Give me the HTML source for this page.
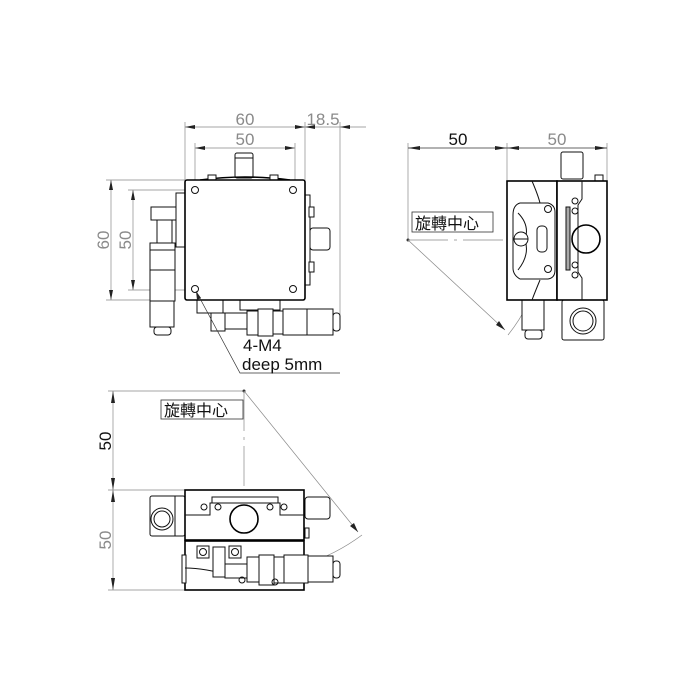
<!DOCTYPE html>
<html><head><meta charset="utf-8"><style>
html,body{margin:0;padding:0;background:#fff;width:700px;height:700px;overflow:hidden}
svg{display:block}
.o{fill:none;stroke:#111;stroke-width:1}
.b{fill:none;stroke:#000;stroke-width:1.6}
.w{fill:#fff;stroke:#111;stroke-width:1}
.d{fill:none;stroke:#888;stroke-width:0.7}
.t{font-family:"Liberation Sans","Noto Sans CJK TC",sans-serif;font-size:17px;fill:#111}
.c{font-family:"Liberation Sans","Noto Sans CJK TC",sans-serif;font-size:16px;fill:#111}
.g{fill:#8a8a8a}
.a{fill:#222}
</style></head><body>
<svg width="700" height="700" viewBox="0 0 700 700" xmlns="http://www.w3.org/2000/svg">
<!-- VIEW 1 -->
<line class="d" x1="185" y1="122" x2="185" y2="180"/>
<line class="d" x1="305" y1="122" x2="305" y2="180"/>
<line class="d" x1="195" y1="143" x2="195" y2="180"/>
<line class="d" x1="295" y1="143" x2="295" y2="180"/>
<line class="d" x1="340" y1="122" x2="340" y2="330"/>
<line class="d" x1="185" y1="127" x2="366" y2="127"/>
<line class="d" x1="195" y1="148" x2="295" y2="148"/>
<polygon class="a" points="185,127 195,125 195,129"/><polygon class="a" points="305,127 295,125 295,129"/>
<polygon class="a" points="305,127 315,125 315,129"/><polygon class="a" points="340,127 350,125 350,129"/>
<polygon class="a" points="195,148 205,146 205,150"/><polygon class="a" points="295,148 285,146 285,150"/>
<text class="t g" x="245" y="125" text-anchor="middle">60</text>
<text class="t g" x="245" y="145" text-anchor="middle">50</text>
<text class="t g" x="323" y="125" text-anchor="middle">18.5</text>
<line class="d" x1="106" y1="180" x2="185" y2="180"/>
<line class="d" x1="106" y1="300" x2="150" y2="300"/>
<line class="d" x1="128" y1="190" x2="185" y2="190"/>
<line class="d" x1="128" y1="290" x2="185" y2="290"/>
<line class="d" x1="111" y1="180" x2="111" y2="300"/>
<line class="d" x1="133" y1="190" x2="133" y2="290"/>
<polygon class="a" points="111,180 109,190 113,190"/><polygon class="a" points="111,300 109,290 113,290"/>
<polygon class="a" points="133,190 131,200 135,200"/><polygon class="a" points="133,290 131,280 135,280"/>
<text class="t g" transform="translate(109,240) rotate(-90)" text-anchor="middle">60</text>
<text class="t g" transform="translate(131,240) rotate(-90)" text-anchor="middle">50</text>
<rect class="w" x="235" y="153" width="18" height="25" rx="2"/>
<line class="o" x1="235" y1="158" x2="253" y2="158"/>
<path class="b" d="M200,180 Q245,174 290,180"/>
<rect class="w" x="208" y="175" width="8" height="5"/><rect class="w" x="270" y="175" width="8" height="5"/>
<rect class="w" x="176" y="193" width="10" height="54"/>
<rect class="w" x="151" y="207" width="25" height="13"/>
<rect class="w" x="157" y="220" width="15" height="23"/>
<rect class="w" x="150" y="243" width="25" height="58"/>
<line class="o" x1="150" y1="250" x2="175" y2="250"/><line class="o" x1="150" y1="270" x2="175" y2="270"/>
<rect class="w" x="150" y="301" width="24" height="26"/>
<rect class="w" x="154" y="327" width="17" height="8" rx="3"/>
<rect class="w" x="305" y="195" width="5" height="90"/>
<rect class="w" x="310" y="228" width="20" height="22" rx="3"/>
<rect class="w" x="309" y="207" width="5" height="10"/><rect class="w" x="309" y="262" width="5" height="10"/>
<rect class="w" x="197" y="300" width="26" height="13"/>
<rect class="w" x="211" y="313" width="14" height="18"/>
<rect class="w" x="225" y="313" width="24" height="16"/>
<rect class="w" x="240" y="300" width="40" height="10"/>
<rect class="w" x="247" y="311" width="11" height="24"/>
<rect class="w" x="258" y="309" width="15" height="27"/>
<rect class="w" x="273" y="311" width="10" height="23"/>
<rect class="w" x="283" y="309" width="24" height="26"/>
<rect class="w" x="307" y="309" width="26" height="26"/>
<rect class="w" x="333" y="313" width="7" height="18" rx="3"/>
<rect class="w" x="185" y="180" width="120" height="120" rx="2" style="stroke-width:1.6;stroke:#000"/>
<circle class="o" cx="195" cy="190" r="3.5"/><circle class="o" cx="293" cy="190" r="3.5"/>
<circle class="o" cx="195" cy="289" r="3.5"/><circle class="o" cx="293" cy="289" r="3.5"/>
<polyline class="d" points="196,291 240,373 340,373" style="stroke:#333"/>
<polygon class="a" points="196,291 197,300 201,298"/>
<text class="t" x="243" y="351">4-M4</text>
<text class="t" x="242" y="370">deep 5mm</text>

<!-- VIEW 2 -->
<line class="d" x1="408" y1="143" x2="408" y2="240"/>
<line class="d" x1="507" y1="143" x2="507" y2="180"/>
<line class="d" x1="607" y1="143" x2="607" y2="180"/>
<line class="d" x1="408" y1="148" x2="607" y2="148" style="stroke:#333"/>
<polygon class="a" points="408,148 420,146 420,150"/><polygon class="a" points="507,148 495,146 495,150"/>
<polygon class="a" points="507,148 519,146 519,150"/><polygon class="a" points="607,148 595,146 595,150"/>
<text class="t" x="458" y="145" text-anchor="middle">50</text>
<text class="t g" x="557" y="145" text-anchor="middle">50</text>
<rect x="412" y="212" width="81" height="20" fill="#fff" stroke="#333" stroke-width="0.8"/>
<text class="c" x="415" y="229">旋轉中心</text>
<circle cx="408" cy="240" r="1.5" fill="#333"/>
<line class="d" x1="408" y1="240" x2="507" y2="240" stroke-dasharray="40,6,3,6"/>
<line class="d" x1="408" y1="240" x2="505" y2="330"/>
<polygon class="a" points="505,330 496,325 499,321"/>
<path class="d" d="M508,335 Q520,320 527,305"/>
<rect class="w" x="561" y="152" width="22" height="27" rx="2"/>
<rect class="w" x="595" y="175" width="8" height="6"/>
<rect class="w" x="522" y="300" width="22" height="30"/>
<rect class="w" x="525" y="330" width="17" height="9" rx="3"/>
<rect class="w" x="562" y="300" width="42" height="40" rx="2"/>
<circle class="o" cx="583" cy="321" r="13"/><circle class="o" cx="583" cy="321" r="10"/>
<rect class="w" x="507" y="181" width="50" height="119" style="stroke-width:1.6;stroke:#000"/>
<rect class="w" x="557" y="181" width="50" height="119" style="stroke-width:1.6;stroke:#000"/>
<path class="o" d="M532,181 Q538,195 540,203 M540,280 Q535,292 532,300"/>
<path class="o" d="M520,203 L548,203 Q555,205 555,212 L555,270 Q555,278 548,279 L520,279 Q513,275 513,268 L513,215 Q513,205 520,203Z"/>
<path class="o" d="M518,213 Q530,225 525,240 Q530,255 518,270"/>
<circle class="w" cx="521" cy="239" r="7"/>
<line class="o" x1="514" y1="239" x2="528" y2="239"/>
<rect class="o" x="537" y="226" width="10" height="26" rx="4"/>
<circle class="o" cx="548" cy="209" r="3.5"/><circle class="o" cx="548" cy="269" r="3.5"/>
<path class="o" d="M582,181 L582,199 L578,205 L578,272 L582,278 L582,300"/>
<rect class="o" x="566" y="207" width="4" height="63" style="fill:#aaa"/>
<circle class="o" cx="575" cy="201" r="3"/><circle class="o" cx="575" cy="211" r="3"/>
<circle class="o" cx="575" cy="265" r="3"/><circle class="o" cx="575" cy="275" r="3"/>
<circle class="b" cx="586" cy="239" r="14"/>

<!-- VIEW 3 -->
<line class="d" x1="108" y1="391" x2="244" y2="391"/>
<line class="d" x1="108" y1="490" x2="185" y2="490"/>
<line class="d" x1="108" y1="590" x2="185" y2="590"/>
<line class="d" x1="113" y1="391" x2="113" y2="590"/>
<polygon class="a" points="113,391 111,403 115,403"/><polygon class="a" points="113,490 111,478 115,478"/>
<polygon class="a" points="113,490 111,502 115,502"/><polygon class="a" points="113,590 111,578 115,578"/>
<text class="t" transform="translate(111,441) rotate(-90)" text-anchor="middle">50</text>
<text class="t g" transform="translate(111,540) rotate(-90)" text-anchor="middle">50</text>
<rect x="161" y="400" width="82" height="19" fill="#fff" stroke="#333" stroke-width="0.8"/>
<text class="c" x="164" y="416">旋轉中心</text>
<circle cx="244" cy="391" r="1.5" fill="#333"/>
<line class="d" x1="244" y1="391" x2="244" y2="490" stroke-dasharray="40,6,3,6"/>
<line class="d" x1="244" y1="391" x2="358" y2="532"/>
<polygon class="a" points="358,532 350,526 354,523"/>
<path class="d" d="M362,535 Q335,555 305,564"/>
<rect class="w" x="150" y="496" width="35" height="40" rx="2"/>
<line class="o" x1="175" y1="496" x2="175" y2="536"/>
<circle class="o" cx="162" cy="519" r="11"/><circle class="o" cx="162" cy="519" r="8"/>
<rect class="w" x="305" y="497" width="25" height="22" rx="3"/>
<rect class="w" x="305" y="528" width="4" height="10"/>
<rect class="w" x="185" y="490" width="119" height="50" style="stroke-width:1.6;stroke:#000"/>
<path class="o" d="M185,515 L210,515 L210,503 L280,503 L280,515 L304,515"/>
<path class="o" d="M212,503 L212,497 L278,497 L278,503"/>
<circle class="o" cx="204" cy="507" r="3"/><circle class="o" cx="218" cy="507" r="3"/>
<circle class="o" cx="270" cy="507" r="3"/><circle class="o" cx="284" cy="507" r="3"/>
<circle class="b" cx="244" cy="519" r="14"/>
<rect class="w" x="185" y="541" width="119" height="49" style="stroke-width:1.6;stroke:#000"/>
<rect class="w" x="182" y="555" width="4" height="28"/>
<path class="o" d="M185,568 Q205,568 232,576"/>
<rect class="o" x="197" y="546" width="12" height="12"/><circle class="o" cx="203" cy="552" r="3.5"/>
<rect class="o" x="229" y="546" width="12" height="12"/><circle class="o" cx="235" cy="552" r="3.5"/>
<rect class="w" x="213" y="547" width="12" height="30"/>
<rect class="w" x="225" y="564" width="25" height="14"/>
<rect class="w" x="247" y="557" width="12" height="25"/>
<rect class="w" x="259" y="555" width="15" height="30"/>
<rect class="w" x="274" y="557" width="10" height="26"/>
<rect class="w" x="284" y="555" width="24" height="28"/>
<rect class="w" x="308" y="556" width="25" height="26"/>
<rect class="w" x="333" y="561" width="7" height="17" rx="3"/>
<circle class="o" cx="242" cy="580" r="3"/><circle class="o" cx="275" cy="582" r="3"/>
</svg>
</body></html>
